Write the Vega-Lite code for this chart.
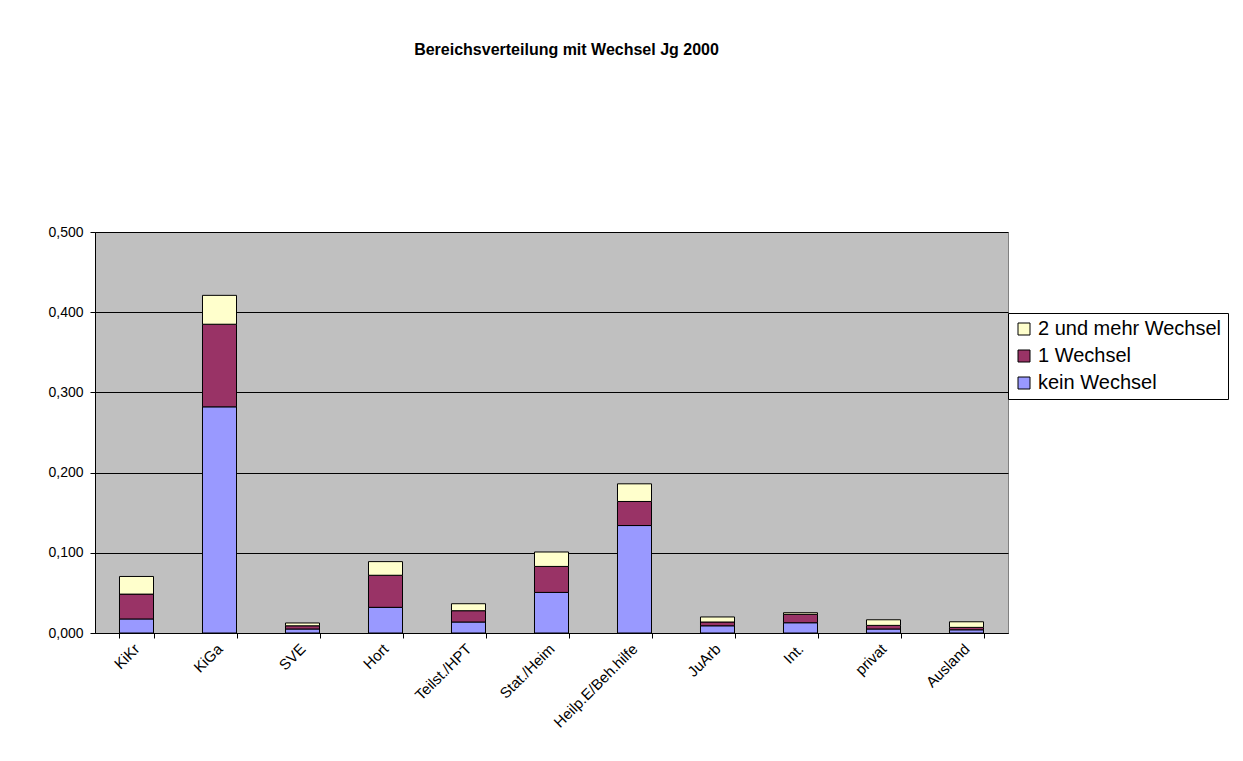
{
  "$schema": "https://vega.github.io/schema/vega-lite/v6.json",
  "width": 913,
  "height": 401,
  "autosize": {"type": "none"},
  "padding": {"left": 95, "top": 232, "right": 235, "bottom": 128},
  "background": "white",
  "config": {
    "locale": {"number": {"decimal": ",", "thousands": ".", "grouping": [3], "currency": ["", " €"]}},
    "font": "Liberation Sans",
    "view": {"fill": "#C0C0C0", "stroke": "#808080", "strokeWidth": 1}
  },
  "title": {
    "text": "Bereichsverteilung mit Wechsel Jg 2000",
    "font": "Liberation Sans",
    "fontSize": 16,
    "fontWeight": "bold",
    "color": "black",
    "offset": 167,
    "dx": 15
  },
  "data": {
    "values": [
      {"bereich": "KiKr", "serie": "kein Wechsel", "wert": 0.0175},
      {"bereich": "KiKr", "serie": "1 Wechsel", "wert": 0.031},
      {"bereich": "KiKr", "serie": "2 und mehr Wechsel", "wert": 0.022},
      {"bereich": "KiGa", "serie": "kein Wechsel", "wert": 0.282},
      {"bereich": "KiGa", "serie": "1 Wechsel", "wert": 0.103},
      {"bereich": "KiGa", "serie": "2 und mehr Wechsel", "wert": 0.036},
      {"bereich": "SVE", "serie": "kein Wechsel", "wert": 0.005},
      {"bereich": "SVE", "serie": "1 Wechsel", "wert": 0.004},
      {"bereich": "SVE", "serie": "2 und mehr Wechsel", "wert": 0.0035},
      {"bereich": "Hort", "serie": "kein Wechsel", "wert": 0.032},
      {"bereich": "Hort", "serie": "1 Wechsel", "wert": 0.040},
      {"bereich": "Hort", "serie": "2 und mehr Wechsel", "wert": 0.017},
      {"bereich": "Teilst./HPT", "serie": "kein Wechsel", "wert": 0.0137},
      {"bereich": "Teilst./HPT", "serie": "1 Wechsel", "wert": 0.0141},
      {"bereich": "Teilst./HPT", "serie": "2 und mehr Wechsel", "wert": 0.0087},
      {"bereich": "Stat./Heim", "serie": "kein Wechsel", "wert": 0.0506},
      {"bereich": "Stat./Heim", "serie": "1 Wechsel", "wert": 0.0324},
      {"bereich": "Stat./Heim", "serie": "2 und mehr Wechsel", "wert": 0.018},
      {"bereich": "Heilp.E/Beh.hilfe", "serie": "kein Wechsel", "wert": 0.134},
      {"bereich": "Heilp.E/Beh.hilfe", "serie": "1 Wechsel", "wert": 0.030},
      {"bereich": "Heilp.E/Beh.hilfe", "serie": "2 und mehr Wechsel", "wert": 0.022},
      {"bereich": "JuArb", "serie": "kein Wechsel", "wert": 0.009},
      {"bereich": "JuArb", "serie": "1 Wechsel", "wert": 0.0047},
      {"bereich": "JuArb", "serie": "2 und mehr Wechsel", "wert": 0.0063},
      {"bereich": "Int.", "serie": "kein Wechsel", "wert": 0.0128},
      {"bereich": "Int.", "serie": "1 Wechsel", "wert": 0.0105},
      {"bereich": "Int.", "serie": "2 und mehr Wechsel", "wert": 0.002},
      {"bereich": "privat", "serie": "kein Wechsel", "wert": 0.005},
      {"bereich": "privat", "serie": "1 Wechsel", "wert": 0.0045},
      {"bereich": "privat", "serie": "2 und mehr Wechsel", "wert": 0.007},
      {"bereich": "Ausland", "serie": "kein Wechsel", "wert": 0.004},
      {"bereich": "Ausland", "serie": "1 Wechsel", "wert": 0.003},
      {"bereich": "Ausland", "serie": "2 und mehr Wechsel", "wert": 0.007}
    ]
  },
  "transform": [
    {"calculate": "indexof(['kein Wechsel','1 Wechsel','2 und mehr Wechsel'], datum.serie)", "as": "stapel"}
  ],
  "mark": {"type": "bar", "stroke": "black", "strokeWidth": 1},
  "encoding": {
    "x": {
      "field": "bereich",
      "type": "nominal",
      "sort": null,
      "scale": {"paddingInner": 0.59, "paddingOuter": 0.295},
      "axis": {
        "title": null,
        "labelAngle": -45,
        "labelAlign": "right",
        "labelBaseline": "middle",
        "labelFontSize": 15,
        "labelColor": "black",
        "labelPadding": 8,
        "labelLimit": 300,
        "tickBand": "extent",
        "tickColor": "black",
        "tickSize": 5,
        "domainColor": "black",
        "grid": false
      }
    },
    "y": {
      "field": "wert",
      "type": "quantitative",
      "stack": "zero",
      "scale": {"domain": [0, 0.5], "nice": false},
      "axis": {
        "title": null,
        "values": [0, 0.1, 0.2, 0.3, 0.4, 0.5],
        "format": ".3f",
        "labelFontSize": 14,
        "labelColor": "black",
        "labelPadding": 7,
        "tickColor": "black",
        "tickSize": 5,
        "domainColor": "black",
        "gridColor": "black",
        "gridOpacity": 1,
        "gridWidth": 1
      }
    },
    "color": {
      "field": "serie",
      "type": "nominal",
      "scale": {
        "domain": ["2 und mehr Wechsel", "1 Wechsel", "kein Wechsel"],
        "range": ["#FFFFCC", "#993366", "#9999FF"]
      },
      "legend": {
        "title": null,
        "orient": "none",
        "legendX": 913,
        "legendY": 81,
        "symbolType": "square",
        "symbolSize": 144,
        "symbolStrokeColor": "black",
        "symbolStrokeWidth": 1,
        "labelFontSize": 20,
        "labelLimit": 400,
        "labelColor": "black",
        "labelOffset": 4,
        "rowPadding": 7,
        "padding": 6,
        "strokeColor": "black",
        "fillColor": "white"
      }
    },
    "order": {"field": "stapel", "type": "quantitative"}
  }
}
